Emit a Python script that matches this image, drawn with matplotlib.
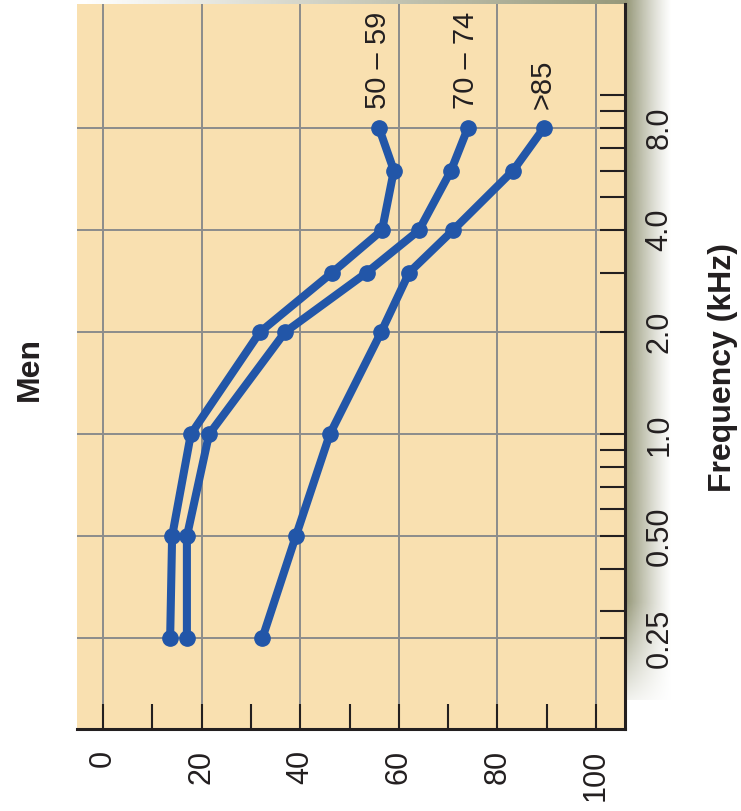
import numpy as np
import matplotlib
matplotlib.use('Agg')
import matplotlib.pyplot as plt
from matplotlib.ticker import FixedLocator, NullFormatter

plt.rcParams['font.family'] = ['Liberation Sans', 'DejaVu Sans']

# data: hearing loss (dB) at each test frequency (kHz)
freqs = [0.25, 0.5, 1.0, 2.0, 3.0, 4.0, 6.0, 8.0]
loss_50_59 = [13.6, 14.0, 17.8, 31.8, 46.5, 56.6, 59.0, 56.0]
loss_70_74 = [17.0, 17.0, 21.5, 36.9, 53.5, 64.1, 70.6, 74.0]
loss_85 = [32.3, 39.1, 46.0, 56.4, 62.1, 71.0, 83.2, 89.4]
group_names = ['50 \u2013 59', '70 \u2013 74', '>85']

freq_ticks = [0.25, 0.5, 1.0, 2.0, 4.0, 8.0]
freq_labels = ['0.25', '0.50', '1.0', '2.0', '4.0', '8.0']
freq_minor = [0.3, 0.4, 0.6, 0.7, 0.8, 0.9, 3, 5, 6, 7, 9, 10]
loss_ticks = [0, 20, 40, 60, 80, 100]
loss_minor = [10, 30, 50, 70, 90]

W, H = 741, 811
fig = plt.figure(figsize=(W / 100, H / 100), dpi=100)

# shadow behind the chart panel (right side and top)
sh = fig.add_axes([0, 0, 1, 1], zorder=0)
sh.axis('off')
base = np.array([140, 142, 108]) / 255.0
n = 60
grad = np.zeros((1, n, 4))
grad[0, :, :3] = base
grad[0, :, 3] = np.linspace(0.95, 0, n) ** 1.2
sh.imshow(grad, extent=[625, 672, 700, 0], aspect='auto', interpolation='bilinear')
vfade = np.zeros((n, 1, 4))
vfade[:, 0, :3] = 1
vfade[:, 0, 3] = np.linspace(0, 1, n)
sh.imshow(vfade, extent=[625, 675, 715, 600], aspect='auto', interpolation='bilinear')
top = np.zeros((1, n, 4))
top[0, :, :3] = base
top[0, :, 3] = np.linspace(0, 0.9, n)
sh.imshow(top, extent=[80, 625, 5, 0], aspect='auto', interpolation='bilinear')
sh.set_xlim(0, W)
sh.set_ylim(H, 0)

ax = fig.add_axes([77 / W, 1 - 729 / H, (625 - 77) / W, (729 - 4) / H], zorder=1)
ax.set_facecolor('#f9e0b0')
ax.set_yscale('log')
ax.set_xlim(-5.3, 105.9)
ax.set_ylim(0.135, 18.6)

blue = '#2256a8'
for vals in [loss_50_59, loss_70_74, loss_85]:
    ax.plot(vals, freqs, color=blue, lw=5.8, marker='o', ms=11,
            solid_capstyle='round', solid_joinstyle='round', zorder=3)

for name, vals in zip(group_names, [loss_50_59, loss_70_74, loss_85]):
    ax.annotate(name, xy=(vals[-1], freqs[-1]), xytext=(-1, 14),
                textcoords='offset points', rotation=90, ha='center',
                va='bottom', fontsize=21, color='#231f20')

ax.xaxis.set_major_locator(FixedLocator(loss_ticks))
ax.xaxis.set_minor_locator(FixedLocator(loss_minor))
ax.set_xticklabels([str(v) for v in loss_ticks])
ax.yaxis.set_major_locator(FixedLocator(freq_ticks))
ax.yaxis.set_minor_locator(FixedLocator(freq_minor))
ax.set_yticklabels(freq_labels)
ax.yaxis.set_minor_formatter(NullFormatter())
ax.yaxis.tick_right()

ax.grid(True, which='major', color='#8c8c8c', lw=1.4)
ax.set_axisbelow(True)

for s in ['left', 'top']:
    ax.spines[s].set_visible(False)
for s in ['right', 'bottom']:
    ax.spines[s].set_linewidth(2.2)
    ax.spines[s].set_color('#231f20')

ax.tick_params(axis='both', which='both', direction='in', length=18,
               width=1.5, color='#231f20', labelsize=22, labelcolor='#231f20')
ax.tick_params(axis='x', pad=15, labelrotation=90)
ax.tick_params(axis='y', pad=14)
for lab in ax.get_yticklabels():
    lab.set_rotation(90)
    lab.set_va('center')
    lab.set_ha('left')

fig.text(30 / W, 1 - 369 / H, 'Men', rotation=90, ha='center', va='center',
         fontsize=23, fontweight='bold', color='#231f20')
fig.text(723 / W, 1 - 367 / H, 'Frequency (kHz)', rotation=90, ha='center',
         va='center', fontsize=23, fontweight='bold', color='#231f20')

fig.savefig('out.png', dpi=100)
